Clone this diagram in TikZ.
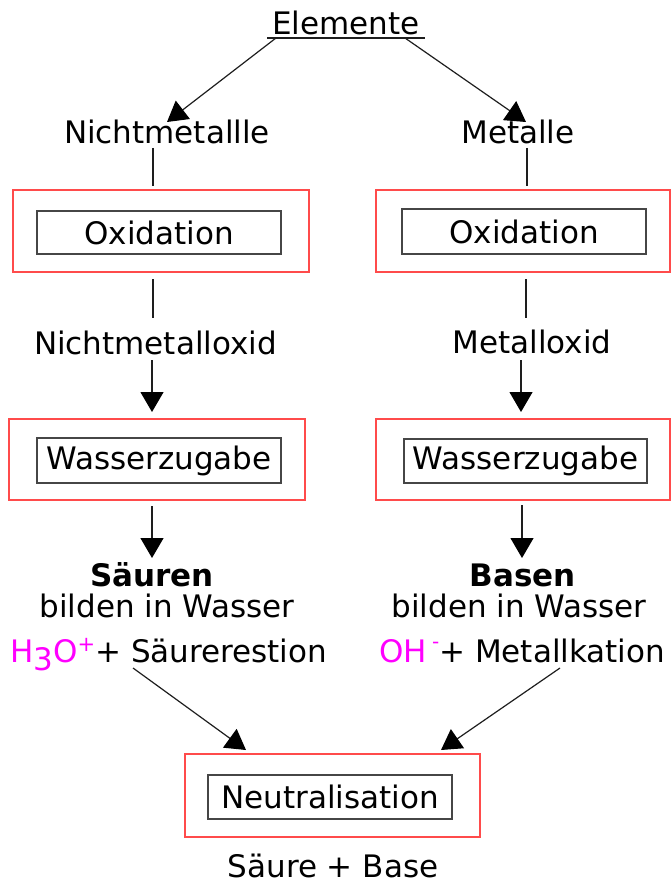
\documentclass[tikz,border=0pt]{standalone}
\usepackage{fontspec}
\setmainfont{DejaVu Sans}
\usetikzlibrary{arrows.meta}
\definecolor{boxred}{RGB}{255,75,75}
\definecolor{innergray}{RGB}{70,70,70}
\definecolor{linegray}{RGB}{30,30,30}
\definecolor{mag}{RGB}{255,0,255}
\tikzset{
  txt/.style={font=\fontsize{31}{37}\selectfont, inner sep=0pt, anchor=base},
  outerbox/.style={draw=boxred, line width=1.3pt, inner sep=0pt},
  innerbox/.style={draw=innergray, line width=1.4pt, inner sep=0pt,
    font=\fontsize{31}{37}\selectfont},
  ln/.style={draw=linegray, line width=1.2pt},
  arr/.style={ln, -{Triangle[length=20pt,width=23pt,color=black]}}
}
\begin{document}
\begin{tikzpicture}[x=1pt,y=-1pt]
\path[use as bounding box, fill=white] (0,0) rectangle (671,885);

% title
\node[txt] (elem) at (346,35) {Elemente};
\coordinate (ulA) at (267,38);
\coordinate (ulB) at (425,38);
\draw[ln] (ulA) -- (ulB);
\coordinate (eL) at (276,38);
\coordinate (eR) at (405,38);

% level 1
\node[txt] (nm) at (167,144) {Nichtmetallle};
\node[txt] (me) at (518,144) {Metalle};
\coordinate (nmTip) at (167,122);
\coordinate (meTip) at (526,122);
\draw[arr] (eL) -- (nmTip);
\draw[arr] (eR) -- (meTip);

% oxidation boxes
\node[outerbox, minimum width=296pt, minimum height=82pt] (ox1o) at (161,231) {};
\node[innerbox, minimum width=244pt, minimum height=43pt] (ox1i) at (159,232.5) {Oxidation};
\node[outerbox, minimum width=294pt, minimum height=82pt] (ox2o) at (523,231) {};
\node[innerbox, minimum width=244pt, minimum height=45pt] (ox2i) at (524,231.5) {Oxidation};

\coordinate (a1) at (153,148); \coordinate (a2) at (153,186);
\coordinate (b1) at (527,148); \coordinate (b2) at (527,186);
\draw[ln] (a1) -- (a2);
\draw[ln] (b1) -- (b2);

% oxides
\node[txt] (nmo) at (155.5,354) {Nichtmetalloxid};
\node[txt] (meo) at (532,353) {Metalloxid};
\coordinate (c1) at (153,279); \coordinate (c2) at (153,318);
\coordinate (d1) at (526,279); \coordinate (d2) at (526,318);
\draw[ln] (c1) -- (c2);
\draw[ln] (d1) -- (d2);
\coordinate (c3) at (152,360); \coordinate (c4) at (152,412);
\coordinate (d3) at (521,360); \coordinate (d4) at (521,412);
\draw[arr] (c3) -- (c4);
\draw[arr] (d3) -- (d4);

% water boxes
\node[outerbox, minimum width=296pt, minimum height=81pt] (ws1o) at (157,459.5) {};
\node[innerbox, minimum width=244pt, minimum height=45pt] (ws1i) at (159,460.5) {Wasserzugabe};
\node[outerbox, minimum width=294pt, minimum height=81pt] (ws2o) at (523,459.5) {};
\node[innerbox, minimum width=243pt, minimum height=44pt] (ws2i) at (525.5,461) {Wasserzugabe};

\coordinate (e1) at (152,506); \coordinate (e2) at (152,558);
\coordinate (f1) at (522,505); \coordinate (f2) at (522,558);
\draw[arr] (e1) -- (e2);
\draw[arr] (f1) -- (f2);

% acids / bases
\node[txt, font=\fontsize{31}{37}\selectfont\bfseries] (sa) at (152,586) {Säuren};
\node[txt] (sa2) at (167,617) {bilden in Wasser};
\node[txt, anchor=base west] (sa3) at (10,662)
  {{\color{mag}H\raisebox{-8pt}{3}O\raisebox{11pt}{\fontsize{21}{21}\selectfont +}}+ Säurerestion};
\node[txt, font=\fontsize{31}{37}\selectfont\bfseries] (ba) at (523,586) {Basen};
\node[txt] (ba2) at (519,617) {bilden in Wasser};
\node[txt, anchor=base west] (ba3) at (379,662)
  {{\color{mag}OH\,\raisebox{14pt}{\fontsize{20}{20}\selectfont -}}+ Metallkation};

\coordinate (g1) at (133,668); \coordinate (g2) at (246,750);
\coordinate (h1) at (560,668); \coordinate (h2) at (441,750);
\draw[arr] (g1) -- (g2);
\draw[arr] (h1) -- (h2);

% neutralisation
\node[outerbox, minimum width=295pt, minimum height=83pt] (neo) at (332.5,795.5) {};
\node[innerbox, minimum width=244pt, minimum height=44pt] (nei) at (330,797) {Neutralisation};
\node[txt] (sb) at (333,877) {Säure + Base};
\end{tikzpicture}
\end{document}
